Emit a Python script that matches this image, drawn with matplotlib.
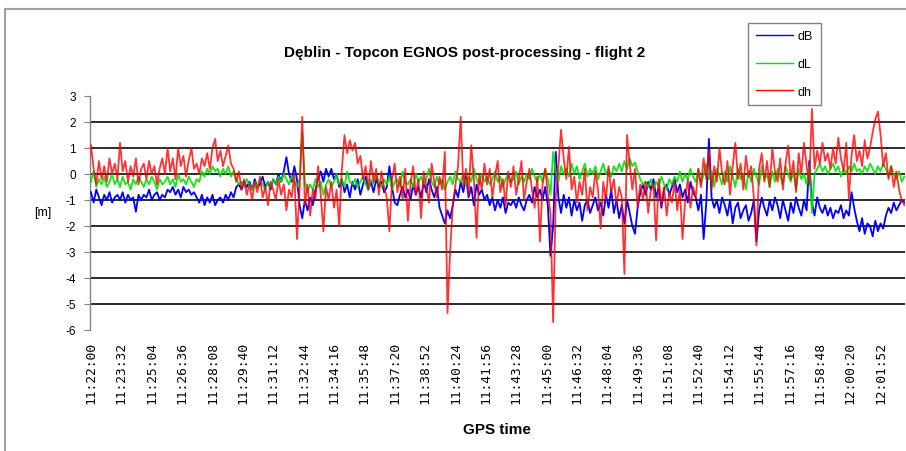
import numpy as np
import matplotlib
matplotlib.use("Agg")
import matplotlib.pyplot as plt
from matplotlib.lines import Line2D

plt.rcParams["axes.unicode_minus"] = False

# ---------------- data (seconds after 11:22:00, sampled every 8 s) ----------------
sample_step_s = 8

dB = [
    -0.7, -1.1, -0.6, -0.9, -1.2, -0.8, -1.0, -0.7, -1.1, -0.9,
    -0.8, -1.0, -0.7, -1.1, -0.8, -1.0, -0.9, -1.45, -0.8, -1.0,
    -0.8, -0.9, -0.6, -1.0, -0.8, -0.7, -1.0, -0.8, -0.9, -0.6,
    -0.7, -0.5, -0.8, -0.6, -0.9, -0.5, -0.7, -0.6, -0.8, -0.7,
    -0.9, -1.1, -0.8, -1.2, -0.9, -1.1, -0.8, -1.2, -1.0, -0.9,
    -1.1, -0.8, -1.0, -0.7, -0.9, -0.5, -0.4, -0.6, -0.3, -0.5,
    -0.3, -0.6, -0.2, -0.5, -0.4, -0.1, -0.5, -0.3, -0.6, -0.2,
    -0.4, 0.0, -0.3, 0.1, 0.65, 0.0, -0.3, 0.3, -0.2, -1.2,
    -1.7, -1.0, -1.4, -0.9, -1.2, -0.6, -0.2, 0.1, -0.3, 0.2,
    -0.1, 0.2, -0.2, 0.0, -0.5, -0.2, -0.7, -0.4, -0.9, -0.3,
    -0.6, -0.2, -0.8, -0.4, -0.1, -0.6, -0.3, -0.7, -0.2, -0.5,
    -0.3, -0.7, -0.5, 0.3, -0.5, -1.1, -1.2, -0.8, -0.5, -0.9,
    -0.6, -1.0, -0.4, -0.8, -0.5, -0.9, -0.3, -0.7, -0.2, -0.6,
    -0.9, -0.5, -1.3, -1.6, -1.9, -1.4, -1.7, -1.2, -0.6, -0.9,
    -0.3, -0.7, -0.1, -0.9, -0.5, -1.2, -0.4, -0.8, -0.6, -1.0,
    -0.8, -1.2, -0.9, -1.4, -1.0, -1.3, -0.9, -1.5, -1.1, -1.2,
    -1.0, -1.3, -0.9, -1.2, -1.4, -1.0, -0.8, -1.1, -0.5, -0.9,
    -0.6, -1.0, -0.5, -1.2, -3.15, -2.0, 0.85, -0.9, -1.5, -0.8,
    -1.3, -0.9, -1.6, -1.0, -1.4, -1.1, -1.8, -1.2, -1.0, -1.5,
    -1.2, -0.9, -1.4, -1.1, -1.6, -0.8, -1.3, -0.6, -1.5, -1.0,
    -1.7, -1.2, -1.9, -1.0, -1.5, -2.0, -2.3, -1.3, -0.7, -0.4,
    -0.8, -0.3, -0.6, -0.2, -0.9, -0.5, -1.3, -0.6, -0.4, -0.8,
    -0.5, -0.2, -0.7, -0.4, -0.9, -0.6, -1.1, -0.3, -0.7, -0.9,
    -1.4, -0.8, -2.5, -1.1, 1.35, -0.9, -1.3, -1.0, -1.5, -0.9,
    -1.2, -1.6, -1.0, -1.9, -1.3, -1.1, -1.7, -1.4, -1.2, -1.8,
    -1.5, -1.0, -2.6, -1.4, -0.9, -1.3, -1.6, -1.0, -1.4, -0.9,
    -1.2, -1.7, -1.0, -1.4, -1.8, -1.1, -1.5, -0.9, -1.3, -1.6,
    -1.0, -1.4, 0.5, -1.1, -1.6, -0.9, -1.3, -1.5, -1.2, -1.6,
    -1.3, -1.7, -1.4, -1.5, -1.2, -1.7, -1.4, -1.6, -0.7, -1.3,
    -1.8, -2.2, -1.7, -2.3, -1.9, -2.0, -2.4, -1.8, -2.2, -1.9,
    -2.1, -1.6, -1.3, -1.5, -1.1, -1.4, -1.2, -1.0, -1.1,
]

dL = [
    -0.3, 0.1, -0.5, -0.2, -0.4, -0.1, -0.5, -0.3, 0.0, -0.4,
    -0.2, -0.5, -0.1, -0.4, -0.3, -0.6, -0.2, -0.4, -0.1, -0.3,
    -0.5, -0.2, -0.4, -0.1, -0.3, -0.6, -0.2, -0.4, -0.3, -0.1,
    -0.4, -0.2, -0.5, 0.0, -0.3, -0.2, -0.4, -0.1, -0.3, -0.5,
    -0.2, -0.3, 0.1, -0.1, 0.2, 0.0, 0.3, 0.1, 0.2, -0.1,
    0.2, 0.0, 0.3, -0.1, 0.1, -0.2, -0.4, -0.3, -0.5, -0.2,
    -0.4, -0.6, -0.3, -0.5, -0.2, -0.4, -0.6, -0.3, -0.5, -0.2,
    -0.4, -0.1, -0.3, 0.0, -0.2, -0.4, -0.1, -0.3, -0.5, -0.2,
    1.6, -0.3, -0.7, -0.4, -0.6, -0.2, -0.5, -0.3, -0.8, -0.4,
    -0.2, -0.5, -0.3, 0.0, -0.4, -0.2, -0.5, 0.1, -0.3, -0.4,
    -0.2, -0.5, -0.3, -0.1, -0.4, -0.6, -0.2, -0.4, 0.0, -0.3,
    -0.5, -0.2, -0.4, -0.1, -0.6, -0.3, -0.2, -0.5, 0.1, -0.3,
    -0.4, -0.2, -0.5, 0.0, -0.3, -0.1, -0.4, -0.2, 0.2, -0.3,
    -0.5, -0.1, -0.4, -0.2, -0.6, -0.3, -0.1, -0.4, 0.1, -0.2,
    -0.3, 0.0, -0.4, -0.1, -0.3, 0.2, -0.2, -0.4, 0.0, -0.3,
    -0.1, -0.4, -0.2, 0.1, -0.3, -0.1, -0.5, -0.2, 0.0, -0.3,
    -0.2, 0.1, -0.4, -0.1, -0.3, 0.0, -0.2, 0.2, -0.1, -0.3,
    0.0, -0.3, 0.2, -0.2, -0.8, 0.85, 0.1, -0.3, 0.3, 0.0,
    0.2, -0.1, 0.4, 0.0, 0.3, -0.2, 0.1, 0.4, -0.1, 0.2,
    0.0, 0.3, -0.2, 0.1, 0.4, 0.0, 0.2, -0.1, 0.3, 0.1,
    0.4, 0.1, 0.5, 0.2, 0.6, 0.3, 0.45, 0.1, -0.2, -0.4,
    -0.3, -0.5, -0.2, -0.6, -0.3, -0.5, -0.1, -0.4, -0.6, -0.2,
    -0.4, -0.1, -0.3, 0.1, -0.3, 0.0, -0.2, 0.2, -0.1, -0.3,
    0.2, -0.4, 0.0, 0.4, -0.2, 0.1, -0.5, 0.2, -0.1, -0.4,
    0.1, -0.3, 0.3, -0.1, -0.5, 0.2, -0.2, 0.0, -0.6, 0.1,
    -0.3, 0.2, -0.1, -0.4, 0.3, -0.2, 0.0, -0.5, 0.1, -0.3,
    0.2, -0.1, -0.4, 0.3, 0.0, -0.3, 0.1, -0.6, 0.2, -0.2,
    0.0, -0.4, 0.3, -1.5, 0.0, 0.2, 0.4, 0.1, 0.3, 0.0,
    0.2, 0.4, 0.1, 0.3, -0.1, 0.2, 0.0, 0.3, 0.1, 0.4,
    0.1, 0.2, 0.0, 0.3, 0.1, 0.4, 0.2, 0.0, 0.3, 0.1,
    0.4, 0.2, -0.1, 0.3, 0.0, -0.2, 0.1, -0.3, -0.1,
]

dh = [
    1.1, 0.2, -0.4, 0.5, -0.2, 0.3, -0.3, 0.6, 0.0, 0.4,
    -0.2, 1.2, 0.1, 0.5, -0.3, 0.3, -0.1, 0.6, -0.4, 0.2,
    0.4, -0.2, 0.5, 0.0, 0.3, -0.4, 0.2, 0.6, 0.0, 1.0,
    0.1, 0.6, -0.2, 1.0, 0.3, 0.7, -0.1, 0.5, 1.0, 0.2,
    0.4, 0.0, 0.6, 0.3, 0.8, 0.2, 1.0, 1.35, 0.5, 0.9,
    0.3, 0.7, 1.1, 0.4, 0.2, -0.3, 0.1, -0.6, -0.2, -0.8,
    -0.4, -1.0, -0.3, -0.7, -0.1, -0.9, -0.5, -1.2, -0.3, -0.6,
    -1.0, -0.2, -0.8, -0.4, -1.4, -0.6, -0.9, 0.0, -2.5, -0.6,
    2.2, -1.2, -0.4, -1.6, -0.6, -1.0, 0.3, -0.8, -2.2, -0.5,
    -1.0, -0.3, -1.3, -0.6, -2.0, 0.2, 1.5, 0.8, 1.3, 0.9,
    1.2, 0.4, 0.7, -0.2, 0.3, -0.6, 0.5, -0.3, 0.2, -0.8,
    0.1, -0.5, -0.9, -2.2, -0.2, 0.4, -0.7, -0.1, -1.0, 0.2,
    -1.8, -0.4, 0.3, -0.8, -0.2, -1.7, 0.1, -0.5, -1.1, 0.4,
    -0.3, -0.9, -0.1, -0.6, 0.85, -5.35, -3.0, -1.2, -0.4, 0.3,
    2.2, -0.5, 0.2, -0.8, 1.1, -0.2, -2.45, 0.0, -0.6, 0.4,
    -0.4, 0.2, -0.9, -0.1, 0.5, -0.7, -0.2, -1.2, 0.1, -0.5,
    0.3, -0.8, -0.2, 0.5, -1.0, -0.3, 0.2, -0.6, -1.3, -0.1,
    -2.6, -0.4, 0.2, -0.8, -1.5, -5.7, -0.9, 0.3, 1.7, 0.6,
    -0.2, 1.05, -0.6, -0.1, -1.1, -0.3, -0.8, 0.2, -1.4, -0.5,
    -0.9, 0.1, -0.6, -2.1, -0.3, -1.0, 0.3, -0.7, -0.2, -1.2,
    -0.5, -0.9, -3.85, 1.5, 0.4, -0.6, 0.2, -1.3, -0.4, -1.0,
    -0.3, -1.5, -0.6, -0.4, -2.55, -0.2, -1.2, -0.5, -1.6, -0.7,
    -1.1, -0.3, -1.4, -0.6, -2.5, -1.0, -0.2, -1.3, -0.5, -0.9,
    0.2, -0.5, 0.6, -0.2, 0.9, -0.6, 0.3, -0.3, 1.0, 0.0,
    -0.4, 0.5, -0.8, 0.3, 1.2, -0.2, 0.4, -0.6, 0.7, -0.1,
    0.3, -0.9, -2.75, 0.2, 0.8, -0.3, 0.5, -0.5, 1.0, 0.1,
    -0.3, 0.6, -0.6, 0.4, 1.1, -0.2, 0.5, -0.7, 0.8, 0.0,
    1.2, 0.3, -0.4, 2.5, 0.2, 0.9, 0.4, 1.2, 0.5, 0.8,
    0.2, 1.0, 0.4, 1.4, 0.6, 0.1, 1.2, -0.95, 0.7, 1.5,
    0.5, 0.9, 0.3, 1.3, 0.6, 1.0, 1.6, 2.1, 2.4, 1.5,
    0.3, 0.8, -0.2, 0.3, -0.5, 0.1, -0.6, -1.0, -1.2,
]

tick_labels = [
    "11:22:00", "11:23:32", "11:25:04", "11:26:36", "11:28:08", "11:29:40",
    "11:31:12", "11:32:44", "11:34:16", "11:35:48", "11:37:20", "11:38:52",
    "11:40:24", "11:41:56", "11:43:28", "11:45:00", "11:46:32", "11:48:04",
    "11:49:36", "11:51:08", "11:52:40", "11:54:12", "11:55:44", "11:57:16",
    "11:58:48", "12:00:20", "12:01:52",
]
tick_step_s = 92

series_names = ["dB", "dL", "dh"]
series_colors = ["#0000ff", "#00e000", "#ff0000"]

# ---------------- figure ----------------
W, H = 906, 452
fig = plt.figure(figsize=(W / 100, H / 100), dpi=100)
fig.patch.set_facecolor("white")

def fx(px):
    return px / W

def fy(py):
    return 1 - py / H

ax = fig.add_axes([fx(90), fy(331), fx(905) - fx(90), fy(97) - fy(331)])

t = np.arange(len(dB)) * sample_step_s
for name, vals, col, a in zip(series_names, [dB, dL, dh], series_colors, [1.0, 0.9, 0.8]):
    ax.plot(t[:len(vals)], vals, color=col, lw=1.3, alpha=a, label=name, zorder=3)

ax.set_ylim(-6, 3)
ax.set_xlim(-3, 2466)
ax.set_yticks(np.arange(-6, 4, 1))
for yv in range(-5, 3):
    ax.axhline(yv, color="#1a1a1a", lw=1.3, zorder=2)

ax.set_xticks(np.arange(len(tick_labels)) * tick_step_s)
ax.set_xticklabels(tick_labels, rotation=90, family="DejaVu Sans Mono", fontsize=9.3)
ax.tick_params(axis="x", length=0, pad=8)
ax.tick_params(axis="y", length=4, width=0.8, color="#808080", labelsize=8.5, pad=6, direction="out")

for s in ["top", "right", "bottom"]:
    ax.spines[s].set_visible(False)
ax.spines["left"].set_color("#808080")
ax.spines["left"].set_linewidth(1.0)

for lab in ax.get_yticklabels():
    lab.set_family("Liberation Sans")

# Texts
fig.text(fx(465), fy(53), "Dęblin - Topcon EGNOS post-processing - flight 2",
         ha="center", va="center", fontsize=11, fontweight="bold", family="Liberation Sans")
fig.text(fx(497), fy(430), "GPS time", ha="center", va="center",
         fontsize=11, fontweight="bold", family="Liberation Sans")
fig.text(fx(43), fy(213), "[m]", ha="center", va="center", fontsize=9, family="Liberation Sans")

# Chart area border (top & left visible in the crop)
fig.add_artist(Line2D([fx(5), 1.0], [fy(10), fy(10)], color="#a0a0a0", lw=1.5))
fig.add_artist(Line2D([fx(5), fx(5)], [fy(10), 0.0], color="#a0a0a0", lw=1.5))

# Legend
leg = fig.legend(loc="upper left", bbox_to_anchor=(fx(748), fy(24)), borderaxespad=0,
                 handlelength=3.0, labelspacing=1.25, handletextpad=0.4,
                 borderpad=0.6, fancybox=False, framealpha=1, edgecolor="#808080",
                 prop={"family": "Liberation Sans", "size": 9})
leg.get_frame().set_linewidth(1.0)
for h in leg.get_lines():
    h.set_alpha(1.0)
    h.set_linewidth(1.0)

fig.savefig("out.png", dpi=100, facecolor="white")
